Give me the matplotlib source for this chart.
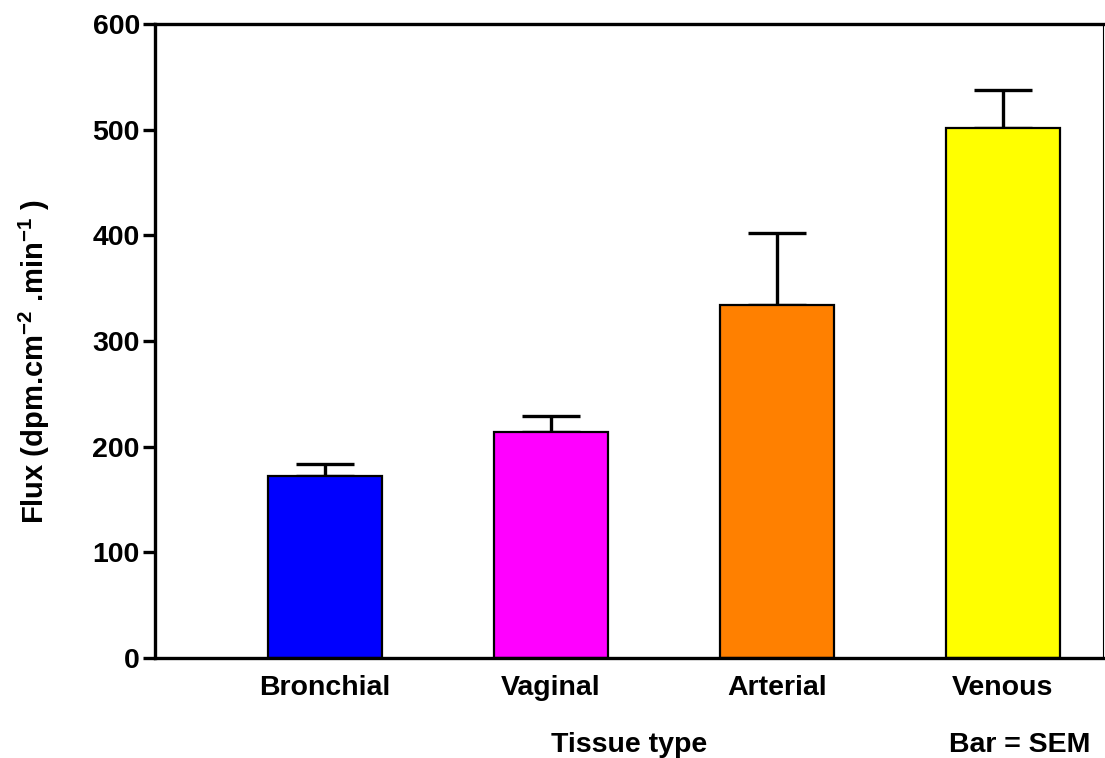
import matplotlib
matplotlib.use('Agg')
import matplotlib.pyplot as plt

plt.rcParams['font.family'] = ['Liberation Sans', 'DejaVu Sans']
plt.rcParams['font.weight'] = 'bold'
plt.rcParams['mathtext.fontset'] = 'custom'
plt.rcParams['mathtext.rm'] = 'Liberation Sans:bold'
plt.rcParams['mathtext.bf'] = 'Liberation Sans:bold'
plt.rcParams['mathtext.default'] = 'bf'

# Data
tissues = ['Bronchial', 'Vaginal', 'Arterial', 'Venous']
flux = [172.5, 214, 334, 502]
sem = [11, 15.5, 68, 35.5]
colors = ['#0000ff', '#ff00ff', '#ff8000', '#ffff00']

fig = plt.figure(figsize=(11.05, 7.58), dpi=100)
ax = fig.add_axes([0.1403, 0.1319, 0.998 - 0.1403, 0.9683 - 0.1319])

x = [1, 2, 3, 4]
ax.bar(x, flux, width=0.504, color=colors, edgecolor='black', linewidth=1.6, zorder=2)
ax.errorbar(x, flux, yerr=[[0] * 4, sem], fmt='none', ecolor='black',
            elinewidth=2.4, capsize=21, capthick=2.4, zorder=1)

ax.set_xlim(0.248, 4.442)
ax.set_ylim(0, 600)
ax.set_yticks([0, 100, 200, 300, 400, 500, 600])
ax.set_xticks(x)
ax.set_xticklabels(tissues)

for side in ['left', 'top', 'bottom']:
    ax.spines[side].set_linewidth(2.4)
ax.spines['right'].set_linewidth(0.8)

ax.tick_params(axis='y', length=9, width=2.4, labelsize=20.5, pad=2)
ax.tick_params(axis='x', length=0, labelsize=20.5, pad=12)
for lab in ax.get_xticklabels() + ax.get_yticklabels():
    lab.set_fontweight('bold')

fig.text(34 / 1105, 1 - 362 / 758, r'Flux (dpm.cm$^{-2}\;$.min$^{-1}\;$)', rotation=90,
         ha='center', va='center', fontsize=21, fontweight='bold')
fig.text(629 / 1105, 1 - 745 / 758, 'Tissue type', ha='center', va='center',
         fontsize=20.5, fontweight='bold')
fig.text(1020 / 1105, 1 - 745 / 758, 'Bar = SEM', ha='center', va='center',
         fontsize=20.5, fontweight='bold')

fig.savefig('out.png', dpi=100)
